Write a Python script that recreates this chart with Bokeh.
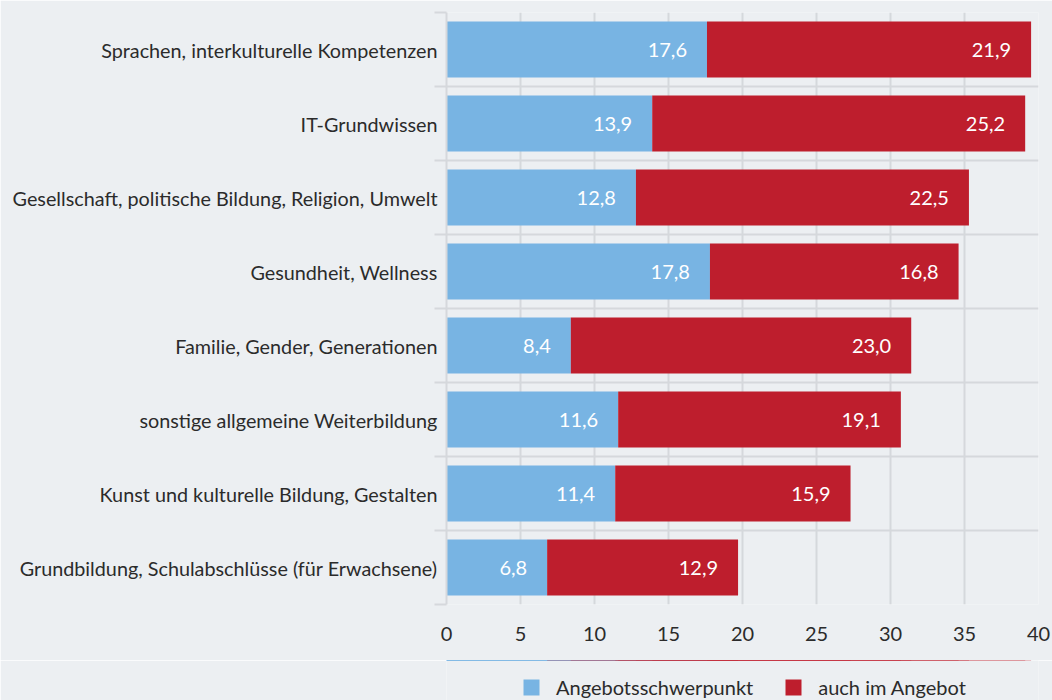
from bokeh.plotting import figure
from bokeh.layouts import column
from bokeh.models import FixedTicker, Range1d, Legend, LegendItem, ColumnDataSource
from bokeh.core.properties import value
from bokeh.embed import file_html
from bokeh.resources import INLINE

categories = [
    "Sprachen, interkulturelle Kompetenzen",
    "IT-Grundwissen",
    "Gesellschaft, politische Bildung, Religion, Umwelt",
    "Gesundheit, Wellness",
    "Familie, Gender, Generationen",
    "sonstige allgemeine Weiterbildung",
    "Kunst und kulturelle Bildung, Gestalten",
    "Grundbildung, Schulabschlüsse (für Erwachsene)",
]
schwerpunkt = [17.6, 13.9, 12.8, 17.8, 8.4, 11.6, 11.4, 6.8]
auch_im_angebot = [21.9, 25.2, 22.5, 16.8, 23.0, 19.1, 15.9, 12.9]
series_names = ["Angebotsschwerpunkt", "auch im Angebot"]
x_ticks = [0, 5, 10, 15, 20, 25, 30, 35, 40]

FONT = "Lato"
FS = "19.8px"
BG = "#eceff2"
GRID = "#d5d8dc"
BLUE = "#78b4e3"
RED = "#be1e2d"
TXT = "#2b2b2b"

n = len(categories)
pos = list(range(1, n + 1))
bounds = [i + 0.5 for i in range(0, n + 1)]

src = ColumnDataSource(dict(
    y=pos,
    a=schwerpunkt,
    b=auch_im_angebot,
    total=[s + t for s, t in zip(schwerpunkt, auch_im_angebot)],
    zero=[0] * n,
    la=[f"{v:.1f}".replace(".", ",") for v in schwerpunkt],
    lb=[f"{v:.1f}".replace(".", ",") for v in auch_im_angebot],
))

p = figure(width=1052, height=660,
           x_range=Range1d(0, 40), y_range=Range1d(n + 0.5, 0.5),
           output_backend="svg", toolbar_location=None,
           min_border_left=446, min_border_right=14,
           min_border_top=12, min_border_bottom=56,
           background_fill_color=BG, border_fill_color=BG,
           outline_line_color=None)

r1 = p.hbar(y="y", left="zero", right="a", height=0.76, source=src,
            fill_color=BLUE, line_color=None)
r2 = p.hbar(y="y", left="a", right="total", height=0.76, source=src,
            fill_color=RED, line_color=None)

for xcol, tcol in (("a", "la"), ("total", "lb")):
    p.text(x=xcol, y="y", text=tcol, source=src, x_offset=-20,
           text_align="right", text_baseline="middle",
           text_color="white", text_font=value(FONT), text_font_size="20px")

# grids
p.xgrid.ticker = FixedTicker(ticks=x_ticks)
p.ygrid.ticker = FixedTicker(ticks=bounds)
for g in (p.xgrid, p.ygrid):
    g.grid_line_color = GRID
    g.grid_line_width = 2

# x axis
xa = p.xaxis[0]
xa.ticker = FixedTicker(ticks=x_ticks)
xa.axis_line_color = None
xa.major_tick_line_color = None
xa.minor_tick_line_color = None
xa.major_label_standoff = 16
xa.major_label_text_font = FONT
xa.major_label_text_font_size = "20px"
xa.major_label_text_color = TXT

# y axis
ya = p.yaxis[0]
ya.ticker = FixedTicker(ticks=pos, minor_ticks=bounds)
ya.major_label_overrides = {i: c for i, c in zip(pos, categories)}
ya.axis_line_color = GRID
ya.axis_line_width = 2
ya.major_tick_line_color = None
ya.major_tick_out = 0
ya.major_tick_in = 0
ya.minor_tick_line_color = GRID
ya.minor_tick_line_width = 2
ya.minor_tick_out = 12
ya.minor_tick_in = 0
ya.major_label_standoff = -3
ya.major_label_text_font = FONT
ya.major_label_text_font_size = FS
ya.major_label_text_color = TXT

# legend strip below the chart (its frame is aligned with the chart's frame);
# the key renderers use the same data but lie outside this strip's view
lg = figure(width=1052, height=40, output_backend="svg", toolbar_location=None,
            x_range=Range1d(0, 40), y_range=Range1d(-2, -1),
            min_border=0, background_fill_color=BG, border_fill_color=BG,
            outline_line_color=None)
lg.axis.visible = False
lg.grid.visible = False
k1 = lg.hbar(y="y", left="zero", right="a", height=0.76, source=src,
             fill_color=BLUE, line_color=None)
k2 = lg.hbar(y="y", left="a", right="total", height=0.76, source=src,
             fill_color=RED, line_color=None)
legend = Legend(items=[LegendItem(label=series_names[0], renderers=[k1]),
                       LegendItem(label=series_names[1], renderers=[k2])],
                orientation="horizontal", location=(75, 1),
                padding=0, margin=0, spacing=30, label_standoff=15,
                glyph_width=20, glyph_height=20,
                label_text_font=FONT, label_text_font_size="20px",
                label_text_color=TXT, label_height=20,
                border_line_color=None, background_fill_alpha=0)
lg.add_layout(legend, "center")

layout = column(p, lg, spacing=0)

open("out.html", "w").write(file_html(layout, INLINE))
